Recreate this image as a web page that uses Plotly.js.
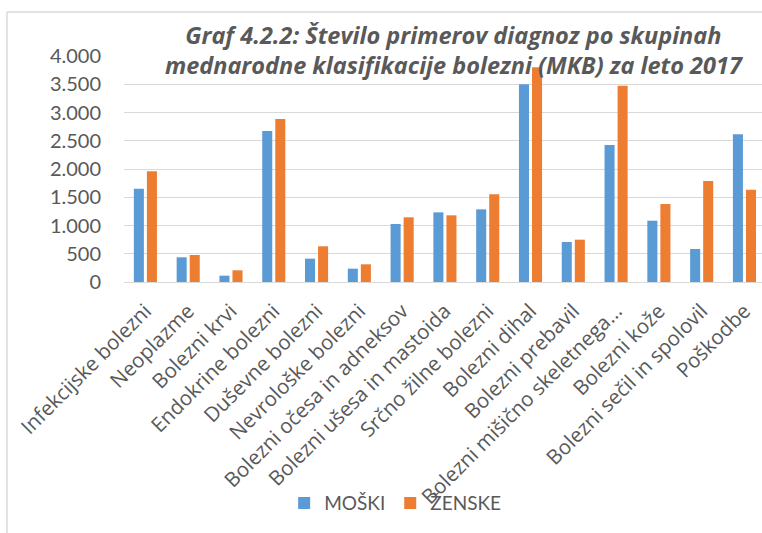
<!DOCTYPE html>
<html>
<head>
<meta charset="utf-8">
<script src="https://cdn.plot.ly/plotly-3.0.1.min.js"></script>
<style>
  html, body { margin: 0; padding: 0; background: #ffffff; }
  #chart { width: 762px; height: 533px; }
</style>
</head>
<body>
<div id="chart"></div>
<script>
const categories = [
  "Infekcijske bolezni",
  "Neoplazme",
  "Bolezni krvi",
  "Endokrine bolezni",
  "Duševne bolezni",
  "Nevrološke bolezni",
  "Bolezni očesa in adneksov",
  "Bolezni ušesa in mastoida",
  "Srčno žilne bolezni",
  "Bolezni dihal",
  "Bolezni prebavil",
  "Bolezni mišično skeletnega...",
  "Bolezni kože",
  "Bolezni sečil in spolovil",
  "Poškodbe"
];
const moski  = [1650, 437, 112, 2673, 413, 236, 1027, 1233, 1286, 3498, 708, 2425, 1085, 584, 2614];
const zenske = [1960, 478, 207, 2885, 632, 313, 1145, 1180, 1552, 3800, 749, 3475, 1380, 1788, 1634];
const seriesNames = ["MOŠKI", "ŽENSKE"];
const yTickVals = [0, 500, 1000, 1500, 2000, 2500, 3000, 3500, 4000];
const yTickText = ["0", "500", "1.000", "1.500", "2.000", "2.500", "3.000", "3.500", "4.000"];

const idx = categories.map((_, i) => i);

const traces = [
  { type: "bar", name: seriesNames[0], x: idx, y: moski, marker: { color: "#5B9BD5" }, hoverinfo: "y" },
  { type: "bar", name: seriesNames[1], x: idx, y: zenske, marker: { color: "#ED7D31" }, hoverinfo: "y" }
];

const font = "Lato, 'Open Sans', sans-serif";
const wideFont = "'Open Sans', Lato, sans-serif";

const layout = {
  width: 762,
  height: 533,
  margin: { l: 124, r: 0, t: 56, b: 251, pad: 0 },
  paper_bgcolor: "#ffffff",
  plot_bgcolor: "#ffffff",
  barmode: "group",
  bargap: 0.39,
  bargroupgap: 0.23,
  font: { family: font, color: "#595959" },
  title: {
    text: "Graf 4.2.2: Število primerov diagnoz po skupinah<br>mednarodne klasifikacije bolezni (MKB) za leto 2017",
    font: { family: wideFont, size: 23.5, color: "#595959", weight: "bold", style: "italic" },
    x: 0.595,
    xanchor: "center",
    xref: "container",
    y: 0.918,
    yanchor: "top",
    yref: "container"
  },
  xaxis: {
    range: [-0.5, 14.41],
    tickvals: idx,
    ticktext: categories,
    tickangle: -45,
    tickfont: { family: wideFont, size: 20.5, color: "#595959" },
    ticklabelstandoff: 12,
    showgrid: false,
    zeroline: false,
    showline: false,
    ticks: "",
    fixedrange: true
  },
  yaxis: {
    range: [0, 4000],
    tickvals: yTickVals,
    ticktext: yTickText,
    tickfont: { family: font, size: 20, color: "#595959" },
    gridcolor: "#d9d9d9",
    gridwidth: 1,
    zeroline: true,
    zerolinecolor: "#d9d9d9",
    zerolinewidth: 1,
    showline: false,
    ticks: "",
    ticklabelstandoff: 22,
    fixedrange: true
  },
  legend: {
    orientation: "h",
    x: 0.425,
    xanchor: "center",
    y: -0.978,
    yanchor: "middle",
    bgcolor: "rgba(0,0,0,0)",
    font: { family: font, size: 19, color: "#595959" },
    itemsizing: "constant",
    traceorder: "normal"
  },
  showlegend: true,
  shapes: [
    { type: "line", xref: "paper", yref: "paper", x0: -0.1834, x1: -0.1834, y0: -1.2, y1: 1.1947, line: { color: "#d9d9d9", width: 1.5 } },
    { type: "line", xref: "paper", yref: "paper", x0: -0.1834, x1: 1.1, y0: 1.1947, y1: 1.1947, line: { color: "#d9d9d9", width: 1.5 } }
  ]
};

Plotly.newPlot("chart", traces, layout, { displayModeBar: false, staticPlot: true });
</script>
</body>
</html>
